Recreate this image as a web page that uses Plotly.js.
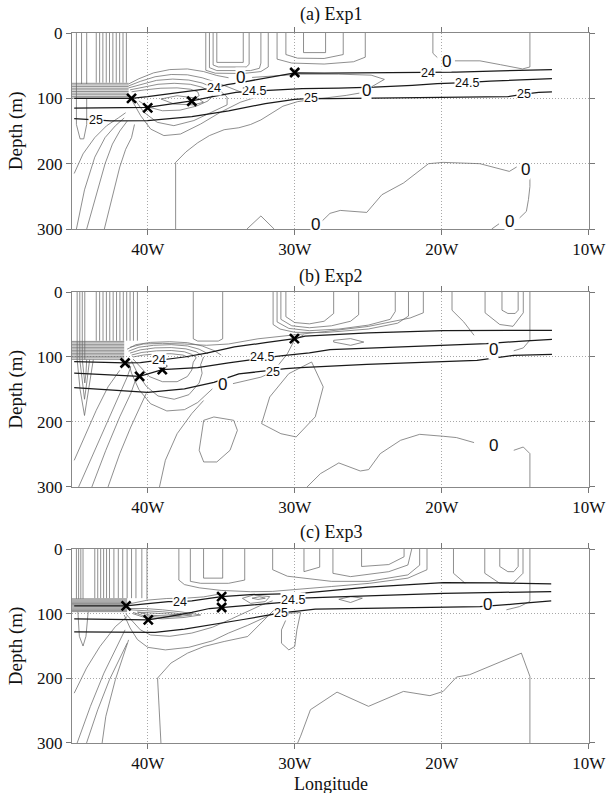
<!DOCTYPE html>
<html><head><meta charset="utf-8">
<script src="https://cdn.plot.ly/plotly-3.0.1.min.js"></script>
<style>html,body{margin:0;padding:0;background:#fff}#chart{width:606px;height:793px}</style>
</head><body><div id="chart"></div>
<script>
// ---------- axes / ticks ----------
const lonTicks = [-40, -30, -20, -10];
const lonTickText = ['40W', '30W', '20W', '10W'];
const depthTicks = [0, 100, 200, 300];
const panelTitles = ['(a) Exp1', '(b) Exp2', '(c) Exp3'];

// ---------- Panel (a) Exp1 ----------
const A_s24 = [[-45,100],[-43,100],[-41.1,100],[-40,97.5],[-39.1,95],[-37.9,91.5],[-36.9,88],[-36,85.5],[-35.3,83],[-34.6,79],[-33.5,75],[-32.3,70.4],[-31,65],[-30,61],[-28,61.5],[-25,61],[-22.5,61],[-20.7,60.5],[-19,59.7],[-16,58],[-12.5,56]];
const A_s245 = [[-45,115],[-42,114.5],[-40,114],[-38.5,109],[-37,104],[-35.5,97],[-34,91],[-32.8,89],[-31.5,87],[-29.5,85],[-27,84.5],[-24.6,83],[-22,80],[-20.3,77.5],[-18.4,76],[-16.7,73.5],[-12.5,70]];
const A_s25 = [[-45,131],[-43.5,133],[-42.5,134.5],[-40,134],[-37,128],[-34.5,119],[-32,108],[-30,101.5],[-28.9,100],[-27.7,100.5],[-20,98.5],[-15.5,97.5],[-14.4,93.5],[-13.4,91],[-12.5,90]];
const A_markLon = [-41.1, -40.0, -37.0, -30.0];
const A_markDep = [100, 114.5, 104.5, 60.5];
const A_lblText = ['24','24','24.5','24.5','25','25','25','0','0','0','0','0','0'];
const A_lblLon  = [-35.5,-20.9,-32.8,-18.3,-43.5,-28.9,-14.4,-33.7,-25.1,-19.7,-14.3,-15.4,-28.6];
const A_lblDep  = [84,61,88.5,76,133,100,93.5,68,88.5,43,209,288,293];
const A_vLon = [-44.85,-44.5,-44.15,-43.5,-43.27,-43.05,-42.82,-42.6,-42.37,-42.14,-41.91,-41.68,-41.45];
const A_vBot = [78,78,78,76,76,76,76,76,76,76,76,76,76];
const A_hDep = [77,79.5,82,84.5,87,89.5,92,94.5,97,99.5];
const A_hEnd = -41.3;
const A_thin = [
 [[-44.85,78],[-44.85,140],[-44.6,162],[-44.35,162],[-44.15,140],[-44.15,100]],
 [[-41.3,78],[-40.6,70],[-39.6,61],[-38.5,56],[-37.3,55],[-36.2,59],[-35.3,65],[-34.5,68.5]],
 [[-32.9,68],[-31.8,66.5],[-30.5,65],[-29.6,63],[-27,63],[-24.8,64.5],[-23.9,71],[-24.4,78],[-24.9,84]],
 [[-25.6,92],[-26.5,95.5],[-28.3,100.5],[-29.8,105],[-30.8,112],[-31.6,123],[-32.3,133],[-33,140],[-33.8,145],[-34.8,148],[-35.8,157],[-36.6,168],[-37.4,182],[-38.1,198],[-38.1,300]],
 [[-41.3,81],[-40.5,74],[-39.5,67],[-38.4,63.5],[-37.3,64],[-36.3,68.5],[-35.4,75],[-34.6,82],[-33.7,90],[-32.6,98],[-33.7,106],[-35.06,121.4],[-36.4,139.3],[-37.77,154.6],[-38.9,157],[-39.8,147],[-40.48,126.5],[-41.05,104]],
 [[-41.3,84],[-40.4,78],[-39.4,72.5],[-38.3,70.5],[-37.2,72],[-36.3,76.5],[-35.6,83],[-35.0,90],[-34.6,98],[-34.6,110],[-35.73,121.4],[-36.86,134],[-38.22,141.8],[-39.35,136.7],[-40.25,121.4],[-40.82,104]],
 [[-41.2,87],[-40.3,82.5],[-39.3,78.5],[-38.2,77],[-37.1,78.5],[-36.3,83],[-35.8,89],[-35.6,96],[-35.9,104],[-36.7,112],[-37.8,118],[-39,119],[-40,113],[-40.6,104]],
 [[-41.1,90],[-40.2,87],[-39.1,84.5],[-38,84],[-37.1,86],[-36.6,90],[-36.5,96],[-36.9,101]],
 [[-39.1,101],[-38,96],[-36.6,100],[-36.2,106],[-36.9,110],[-38.2,108.7],[-39.1,101]],
 [[-45,215],[-44.4,185],[-43.6,160],[-42.8,142],[-42.0,130],[-41.5,122]],
 [[-44.85,300],[-44.3,240],[-43.6,190],[-42.9,160],[-42.2,142],[-41.6,130]],
 [[-44.15,300],[-43.5,250],[-42.9,200],[-42.4,170],[-41.9,150],[-41.4,135]],
 [[-42.95,300],[-42.4,250],[-41.9,205],[-41.5,178],[-41.1,160],[-40.9,140]],
 [[-35.3,0],[-35.3,45],[-33.5,45],[-33.5,0]],
 [[-35.55,0],[-35.55,49],[-35.2,52],[-33.3,52],[-33.1,48],[-33.1,0]],
 [[-35.8,0],[-35.8,53],[-35.3,57.5],[-33,57.5],[-32.4,54],[-32.3,46],[-32.3,0]],
 [[-36.05,0],[-36.05,57],[-35.4,61.5],[-33.5,62],[-32.3,59],[-31.8,52],[-31.8,0]],
 [[-29.4,0],[-29.4,30],[-27.9,30],[-27.9,0]],
 [[-30.6,0],[-30.6,33],[-29.8,38.5],[-28,39],[-26.7,33],[-26.7,0]],
 [[-31.2,0],[-31.2,40],[-30.2,46],[-28,47.5],[-26,44],[-25.2,37],[-25.2,0]],
 [[-20.6,0],[-20.6,31],[-20.3,37.5]],
 [[-19.1,42.6],[-17.4,42.6],[-16,48.5],[-14.5,55],[-14,52],[-14,0]],
 [[-28.1,287],[-27.6,276],[-26.9,271.5],[-25.1,274.6],[-24.07,247.5],[-22.6,229.6],[-20.9,200],[-19.9,198],[-17.4,200],[-15.4,211.8],[-14.9,205]],
 [[-14,222],[-14,235],[-14.1,255],[-14.24,273],[-14.7,283]],
 [[-16.1,292],[-16.6,300]],
 [[-33.25,300],[-32.3,280],[-31.4,300]]
];

// ---------- Panel (b) Exp2 ----------
const B_s24 = [[-45,107],[-43,108],[-41.54,109.2],[-40.5,108.5],[-39.8,106.5],[-38.6,103],[-37.5,100],[-36,94],[-34.1,84.6],[-32,78],[-30,71.8],[-29.3,68],[-25,63],[-19.9,59.5],[-16,59],[-12.5,59]];
const B_s245 = [[-45,125],[-42.5,127],[-40.55,129.7],[-39.01,119.5],[-36.6,116.4],[-34.5,109],[-33,104],[-32.1,101.5],[-30.8,98],[-29,93.5],[-27.6,88.7],[-22,84],[-16.95,79.4],[-14.5,75.5],[-12.5,73]];
const B_s25 = [[-45,147],[-42.5,151],[-40,154.5],[-37.5,149],[-35.5,139],[-33.8,126],[-32.4,122],[-31.6,120.5],[-30.6,118],[-29.6,116.3],[-25.1,111.3],[-17.6,105.1],[-15.1,97.4],[-12.5,95.9]];
const B_markLon = [-41.54, -40.55, -39.01, -30.02];
const B_markDep = [109.2, 129.7, 119.5, 71.8];
const B_lblText = ['24','24.5','25','0','0','0'];
const B_lblLon  = [-39.2,-32.2,-31.5,-34.9,-16.5,-16.5];
const B_lblDep  = [104.5,99.5,122.5,143,89,236];
const B_vLon = [-44.8,-44.62,-44.45,-44.28,-43.5,-43.27,-43.04,-42.81,-42.58,-42.35,-42.12,-41.89,-41.66,-41.43,-41.2,-40.97,-40.7];
const B_vBot = [104,104,104,104,75,75,75,75,75,75,75,75,75,75,75,75,75];
const B_hDep = [76,78.3,80.6,82.9,85.2,87.5,89.8,92.1,94.4,96.7,99,101.3,103.6];
const B_hEnd = -41.6;
const B_thin = [
 [[-36.9,0],[-36.9,72],[-36.6,75.5],[-35.2,75.5],[-34.9,72],[-34.9,0]],
 [[-30.6,0],[-30.6,38],[-30,47],[-29,49],[-28,45],[-27.35,33],[-27.35,0]],
 [[-30.94,0],[-30.94,42],[-30.2,52],[-29,55],[-27.5,52],[-26.2,45],[-25.65,35],[-25.65,0]],
 [[-31.2,0],[-31.2,46],[-30.4,56],[-29,59.5],[-27,57],[-25,51],[-23.5,42],[-23.16,30],[-23.16,0]],
 [[-31.47,0],[-31.47,50],[-31,57],[-30,62],[-28,62.5],[-25,57],[-23,48],[-22.26,37],[-22.26,0]],
 [[-21.25,0],[-21.25,32],[-22.15,40],[-25,53],[-28,61],[-30.5,66.5],[-32.5,72],[-34.5,80],[-36,82],[-37.5,80],[-39,79],[-40.3,80],[-41.2,85]],
 [[-41.4,88],[-40.8,81],[-39.8,77.5],[-38.5,76.5],[-37.3,78],[-36.3,83],[-35.5,90],[-35,97]],
 [[-41.3,91],[-40.6,85],[-39.6,82],[-38.4,81],[-37.3,83],[-36.5,88],[-35.9,95]],
 [[-41.2,94],[-40.5,89],[-39.5,86],[-38.4,85.5],[-37.4,87.5],[-36.7,92],[-36.3,98]],
 [[-41.1,97],[-40.4,93],[-39.4,90.5],[-38.4,90],[-37.5,92],[-37,96],[-36.7,101]],
 [[-41,100],[-40.3,97],[-39.3,95],[-38.4,95],[-37.6,97],[-37.2,101]],
 [[-41.3,108],[-41.1,125],[-40.6,150],[-39.8,172],[-38.7,183],[-37.5,181],[-36.6,170],[-36,157],[-35.6,149]],
 [[-34.2,141],[-33.7,138.5],[-32.3,131],[-31.8,126]],
 [[-31.2,115],[-30.5,95],[-30.02,74],[-29.4,66]],
 [[-41.1,106],[-40.7,125],[-40.1,145],[-39.3,160],[-38.2,165],[-37.2,158],[-36.5,140],[-36.3,125],[-36.4,112],[-36.2,100]],
 [[-41,103],[-40.5,116],[-39.9,130],[-39,138],[-38,138],[-37.3,130],[-37,120],[-36.9,108],[-36.7,101]],
 [[-44.8,104],[-44.6,150],[-44.3,190],[-44.0,150],[-43.7,104]],
 [[-44.62,104],[-44.45,140],[-44.3,165],[-44.15,140],[-43.95,104]],
 [[-44.45,104],[-44.35,125],[-44.28,140],[-44.2,125],[-44.15,104]],
 [[-45,259],[-44.3,223],[-43.5,182],[-42.7,146],[-41.9,120.5]],
 [[-44.7,300],[-43.8,254],[-42.7,197],[-41.9,156],[-41.4,131],[-41.15,115]],
 [[-43.8,300],[-42.85,243.6],[-41.9,192],[-41.15,156],[-40.76,131]],
 [[-42.7,300],[-41.9,248.7],[-41.15,207.7],[-40.5,177],[-40.1,156]],
 [[-39.2,300],[-38.8,259],[-38,218],[-37,187],[-36.2,167]],
 [[-36.19,197.4],[-35.5,192.3],[-34.15,197.4],[-33.9,212.8],[-34.4,243.6],[-35.3,261.5],[-36.19,261.5],[-36.5,243.6],[-36.19,197.4]],
 [[-28.85,107.7],[-28.06,146],[-28.6,192],[-29.9,223],[-30.94,218],[-32.25,202.6],[-31.7,161.5],[-30.4,125.6],[-28.85,107.7]],
 [[-27.35,74.3],[-26.2,71.7],[-25.3,77],[-26.2,82],[-27.35,77],[-27.35,74.3]],
 [[-19.3,0],[-19.3,28],[-18.5,46],[-17.8,66.6]],
 [[-17.05,0],[-17.05,32],[-16.05,50],[-15.15,52.8],[-14.45,32],[-14.45,0]],
 [[-15.9,0],[-15.9,28],[-15.5,33],[-15,33],[-14.8,28],[-14.8,0]],
 [[-14.0,0],[-14.0,74],[-14.45,86],[-15.1,90.5]],
 [[-29.16,300],[-28.25,279.5],[-27.0,263],[-25.54,275.4],[-24.97,273.3],[-24.18,248.7],[-22.8,228.2],[-21.5,219],[-19.9,222],[-19.0,224],[-17.8,231.7]],
 [[-15.1,243.6],[-14.45,238.5],[-14.0,248.7],[-14.0,300]]
];

// ---------- Panel (c) Exp3 ----------
const C_s24 = [[-45,88],[-43,88],[-41.47,88],[-40.5,85.5],[-39.5,83],[-38.6,81.5],[-37.8,81.3],[-37,80],[-35.7,76],[-34.97,73.6],[-33,70.5],[-31,69],[-29.6,68.4],[-25,59],[-19.9,52],[-16,52.5],[-12.55,54]];
const C_s245 = [[-45,108],[-43,108.5],[-41.2,109],[-39.96,109.6],[-38.5,104],[-37,98],[-35.8,92],[-34.97,90.5],[-33.5,88],[-32,85],[-31.2,83],[-30.2,81.3],[-29.6,76],[-25,72],[-19.9,68.4],[-16,67],[-12.55,66]];
const C_s25 = [[-45,128],[-42,129],[-39.5,129],[-37.5,124],[-35.5,117],[-33.5,109],[-32,103],[-31.2,99.5],[-30.8,98.3],[-29.8,96],[-28.6,93],[-23,91],[-17.4,89],[-15,85],[-12.55,80.2]];
const C_markLon = [-41.47, -39.96, -34.97, -34.97];
const C_markDep = [88, 109.6, 73.6, 90.5];
const C_lblText = ['24','24.5','25','0'];
const C_lblLon  = [-37.8,-30.1,-30.9,-16.9];
const C_lblDep  = [81.3,79.5,99.5,86.5];
const C_vLon = [-44.85,-44.7,-44.55,-44.4,-43.6,-43.4,-43.2,-43.0,-42.8,-42.6,-42.3,-42.0,-41.7,-41.4,-41.1,-40.8,-40.4,-40.05];
const C_vBot = [77,77,77,77,76,76,76,76,76,76,76,76,76,76,76,76,76,78];
const C_hDep = [77,78.8,80.6,82.4,84.2,86,87.8,89.6,91.4,93.2,95,96.8];
const C_hEnd = -41.4;
const C_thin = [
 [[-44.75,97],[-44.65,135],[-44.4,150],[-44.2,135],[-44.05,97]],
 [[-41.3,92],[-40.2,92],[-39,94],[-37.8,97],[-36.4,102],[-37.6,106],[-39,108],[-40.2,106],[-41,100]],
 [[-41.2,94],[-40.2,95],[-39,97],[-38,99.5],[-37,102],[-38,104.5],[-39.2,105.5],[-40.3,103],[-41,98]],
 [[-40.7,97.5],[-39.5,99],[-38.5,101],[-37.7,102],[-38.6,103.5],[-39.8,102.5],[-40.7,97.5]],
 [[-41.3,85],[-40,79],[-38.7,76.5],[-37.4,76],[-36.2,74],[-35.2,70]],
 [[-41.5,100],[-41,112],[-40.5,125],[-39.8,133],[-38.5,135],[-37,130],[-35.6,121],[-34.3,108],[-33.2,96],[-32.3,87],[-31.5,80]],
 [[-41.6,102],[-41.2,122],[-40.7,140],[-40,152],[-38.8,156],[-37.2,152],[-35.6,142],[-34.5,130],[-33.2,118],[-31.8,103],[-31.1,96]],
 [[-39.1,300],[-39.33,199.6],[-38.42,176.4],[-37.29,161],[-36.16,150.7],[-34.8,143],[-33.2,135.3],[-31.87,104.4],[-31.4,94.1]],
 [[-45,222.9],[-44.16,184],[-43.25,150.8],[-42.2,120],[-41.4,104.5]],
 [[-44.8,300],[-43.9,243.4],[-42.98,192],[-42.2,156],[-41.54,125]],
 [[-44.16,300],[-43.4,248.6],[-42.6,202],[-41.94,171],[-41.4,145.6]],
 [[-43.1,300],[-42.85,258.9],[-42.2,202],[-41.68,166],[-41.3,140.5]],
 [[-21,0],[-21,32],[-22.3,45],[-24.9,53],[-27.5,58],[-29.9,63],[-31.5,65.5],[-33,66],[-35,64],[-36.5,60],[-37.5,55],[-37.88,48],[-37.88,0]],
 [[-31.5,0],[-31.5,32],[-30.5,42],[-29,46],[-27.5,50],[-25,50],[-22.3,40],[-21.5,25],[-21.5,0]],
 [[-27.4,0],[-27.4,37.6],[-26.2,42.7],[-23.6,35],[-22.3,24.7],[-22.04,0]],
 [[-25.45,0],[-25.45,27],[-23.6,24],[-22.56,12],[-22.56,0]],
 [[-29.37,0],[-29.37,35],[-28.3,28],[-28.3,0]],
 [[-36.2,0],[-36.2,45],[-34.9,45],[-34.9,0]],
 [[-37.1,0],[-37.1,50],[-36.4,53],[-34.5,53],[-33.4,48],[-33.4,0]],
 [[-19.2,0],[-19.2,37.5],[-18.4,53]],
 [[-17.07,0],[-17.07,37.5],[-16.05,53],[-15.15,53],[-14.47,37.5],[-14.47,0]],
 [[-16.05,0],[-16.05,27],[-15.5,35],[-15.1,35],[-14.8,27],[-14.8,0]],
 [[-14.0,0],[-14.0,81],[-14.7,89],[-15.6,94]],
 [[-29.8,300],[-29.6,289.6],[-28.93,248.5],[-27.12,221.3],[-24.98,243.3],[-22.6,220.2],[-20.8,226.8],[-19.9,220.2],[-18.99,198],[-18.1,194.4],[-14.58,161],[-14.0,197],[-14.0,300]],
 [[-27.0,77.7],[-26.2,73.6],[-25.4,76],[-26.2,82.7],[-27.0,77.7]],
 [[-33.56,76.2],[-32.8,71],[-31.7,73.6],[-32.0,81.3],[-33.0,84],[-33.56,76.2]],
 [[-32.9,76],[-32.4,73.8],[-32.0,76],[-32.5,78],[-32.9,76]],
 [[-30.4,99.3],[-29.6,98.3],[-29.85,125],[-30.0,150.8],[-30.4,156],[-30.9,145.7],[-30.9,125],[-30.4,99.3]]
];

// ---------- build ----------
const panels = [
 {s:'', thin:A_thin, vLon:A_vLon, vBot:A_vBot, hDep:A_hDep, hEnd:A_hEnd, dens:[A_s24,A_s245,A_s25], mLon:A_markLon, mDep:A_markDep, lT:A_lblText, lX:A_lblLon, lY:A_lblDep},
 {s:'2', thin:B_thin, vLon:B_vLon, vBot:B_vBot, hDep:B_hDep, hEnd:B_hEnd, dens:[B_s24,B_s245,B_s25], mLon:B_markLon, mDep:B_markDep, lT:B_lblText, lX:B_lblLon, lY:B_lblDep},
 {s:'3', thin:C_thin, vLon:C_vLon, vBot:C_vBot, hDep:C_hDep, hEnd:C_hEnd, dens:[C_s24,C_s245,C_s25], mLon:C_markLon, mDep:C_markDep, lT:C_lblText, lX:C_lblLon, lY:C_lblDep}
];
function flat(polys){const x=[],y=[];polys.forEach(p=>{p.forEach(q=>{x.push(q[0]);y.push(q[1]);});x.push(null);y.push(null);});return {x,y};}

const traces = [], annotations = [];
const domains = [[0.7239,1.0],[0.3606,0.6352],[0,0.2732]];
const serif = 'Liberation Serif, Times New Roman, serif';
const layout = {
  width:606, height:793, margin:{l:72, r:17, t:33, b:50}, showlegend:false,
  paper_bgcolor:'#fff', plot_bgcolor:'#fff', annotations:annotations
};
panels.forEach((p,i)=>{
  const xa='x'+p.s, ya='y'+p.s;
  const verts = p.vLon.map((l,k)=>[[l,0],[l,p.vBot[k]]]);
  const hatch = p.hDep.map(d=>[[-45.15,d],[p.hEnd,d]]);
  const thin = flat(verts.concat(hatch, p.thin));
  traces.push({type:'scatter', mode:'lines', x:thin.x, y:thin.y, xaxis:xa, yaxis:ya,
    line:{color:'#6a6a6a', width:0.75}, connectgaps:false, hoverinfo:'skip'});
  const dens = flat(p.dens);
  traces.push({type:'scatter', mode:'lines', x:dens.x, y:dens.y, xaxis:xa, yaxis:ya,
    line:{color:'#1a1a1a', width:1.25}, connectgaps:false, hoverinfo:'skip'});
  traces.push({type:'scatter', mode:'markers', x:p.mLon, y:p.mDep, xaxis:xa, yaxis:ya,
    marker:{symbol:'x-thin', size:9, color:'#000', line:{width:2.6, color:'#000'}}, hoverinfo:'skip'});
  p.lT.forEach((t,k)=>{
    annotations.push({xref:xa, yref:ya, x:p.lX[k], y:p.lY[k], text:t, showarrow:false,
      font:{family:'Liberation Sans, Arial, sans-serif', size:(t==='0'?17:12.5), color:'#111'},
      bgcolor:'#fff', borderpad:0});
  });
  const common = {ticks:'outside', ticklen:5, tickcolor:'#777', showline:true, linecolor:'#888', linewidth:1, mirror:'ticks',
    showgrid:true, gridcolor:'#a8a8a8', griddash:'1px,2px', gridwidth:1, zeroline:false,
    ticklabeloverflow:'allow', tickfont:{family:serif, size:17, color:'#111'}};
  layout['xaxis'+p.s] = Object.assign({domain:[0,1], range:[-45.15,-9.98], anchor:ya, tickvals:lonTicks, ticktext:lonTickText}, common);
  layout['yaxis'+p.s] = Object.assign({domain:domains[i], range:[300,0], anchor:xa, tickvals:depthTicks}, common);
});
const titleY = [1.0254, 0.6577, 0.2962];
const depthY = [0.862, 0.4979, 0.1366];
panelTitles.forEach((t,i)=>{
  annotations.push({xref:'paper', yref:'paper', x:0.5, y:titleY[i], text:t, showarrow:false,
    font:{family:serif, size:18, color:'#111'}, xanchor:'center', yanchor:'middle'});
  annotations.push({xref:'paper', yref:'paper', x:-0.108, y:depthY[i], text:'Depth (m)', textangle:-90, showarrow:false,
    font:{family:serif, size:19, color:'#111'}, xanchor:'center', yanchor:'middle'});
});
annotations.push({xref:'paper', yref:'paper', x:0.5, y:-0.0575, text:'Longitude', showarrow:false,
  font:{family:serif, size:18, color:'#111'}, xanchor:'center', yanchor:'middle'});

Plotly.newPlot('chart', traces, layout, {displayModeBar:false, staticPlot:true});
</script></body></html>
